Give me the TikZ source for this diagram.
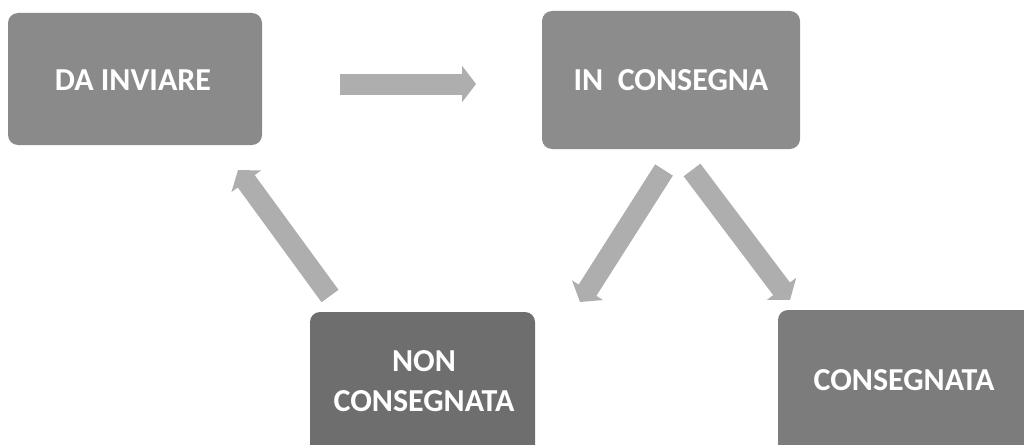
\documentclass[tikz,border=0pt]{standalone}
\usepackage{fontspec}
\setmainfont{Carlito}
\usetikzlibrary{arrows.meta}
\definecolor{boxA}{HTML}{8A8A8A}
\definecolor{boxB}{HTML}{8C8C8C}
\definecolor{boxC}{HTML}{6E6E6E}
\definecolor{boxD}{HTML}{7C7C7C}
\definecolor{arr}{HTML}{AEAEAE}
\tikzset{
  statebox/.style={rounded corners=10pt, inner sep=0pt, draw=none},
  lbl/.style={text=white, font=\bfseries\fontsize{32}{40}\selectfont, align=center, inner sep=0pt},
  blockarrow/.style={draw=arr, line width=21pt, -{Triangle[width=36pt,length=14pt]}}
}
\begin{document}
\begin{tikzpicture}[x=1pt,y=-1pt]
\useasboundingbox (0,0) rectangle (1024,444);
\clip (0,0) rectangle (1024,444);
% boxes
\node[statebox, fill=boxA, minimum width=254pt, minimum height=132pt] (da) at (135,79) {};
\node[statebox, fill=boxB, minimum width=258pt, minimum height=138pt] (in) at (671,80) {};
\node[statebox, fill=boxC, minimum width=225pt, minimum height=160pt] (non) at (422.5,392) {};
\node[statebox, fill=boxD, minimum width=260pt, minimum height=162pt] (cons) at (908,391) {};
% labels
\node[lbl] (tda) at (133,80) {DA INVIARE};
\node[lbl] (tin) at (671,80) {IN\ \ CONSEGNA};
\node[lbl] (tnon) at (424,381) {NON\\CONSEGNATA};
\node[lbl] (tcons) at (904,380) {CONSEGNATA};
% arrow coordinates
\coordinate (a1s) at (340,84);
\coordinate (a1e) at (476,84);
\coordinate (a2s) at (330,296);
\coordinate (a2e) at (238,170);
\coordinate (a3s) at (664,170);
\coordinate (a3e) at (580,302);
\coordinate (a4s) at (692,170);
\coordinate (a4e) at (790,300);
% arrows
\draw[blockarrow] (a1s) -- (a1e);
\draw[blockarrow] (a2s) -- (a2e);
\draw[blockarrow] (a3s) -- (a3e);
\draw[blockarrow] (a4s) -- (a4e);
\end{tikzpicture}
\end{document}
